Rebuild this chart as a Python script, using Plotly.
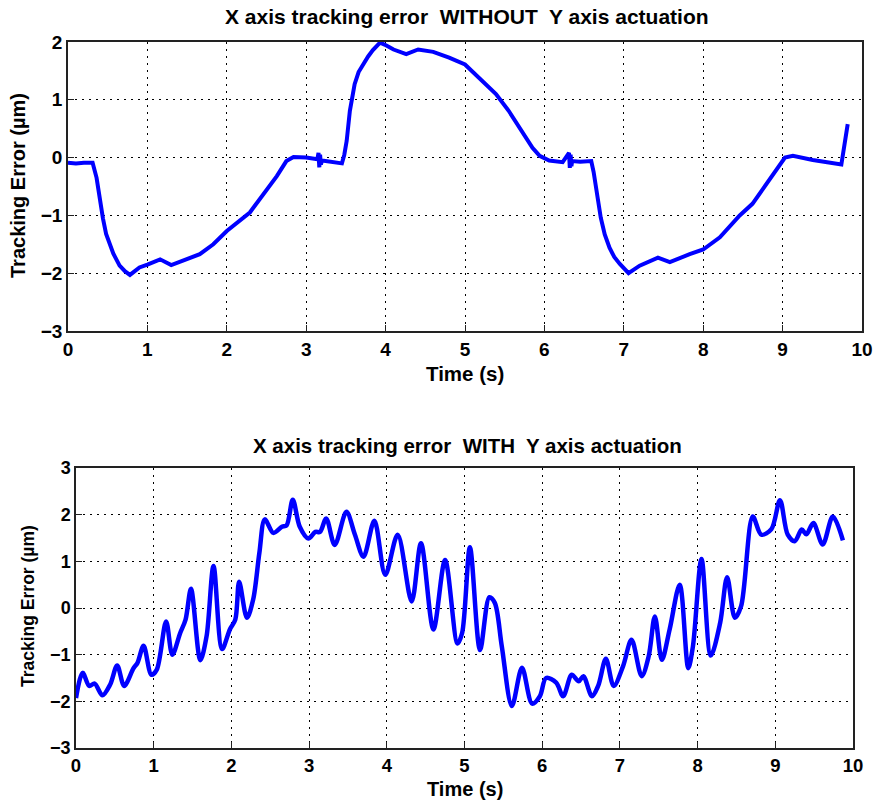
import plotly.graph_objects as go

# Top: X axis tracking error WITHOUT Y axis actuation
t_without = [0.0, 0.1, 0.2, 0.31, 0.36, 0.40, 0.44, 0.48, 0.53, 0.57, 0.65, 0.72, 0.78, 0.90, 1.0, 1.16, 1.30, 1.49, 1.66,
             1.83, 2.0, 2.29, 2.46, 2.63, 2.75, 2.84, 3.0, 3.14, 3.155, 3.165, 3.175, 3.185, 3.2,
             3.34, 3.45, 3.48, 3.51, 3.55, 3.61, 3.66, 3.72, 3.78, 3.84, 3.93, 4.01, 4.1, 4.26, 4.41, 4.6, 4.8,
             5.0, 5.18, 5.39, 5.55, 5.72, 5.85, 5.94, 6.06, 6.23, 6.31, 6.32, 6.33, 6.34, 6.35,
             6.45, 6.59, 6.62, 6.65, 6.71, 6.76, 6.82, 6.88, 6.95, 7.06, 7.2, 7.43, 7.58, 7.83, 8.0, 8.21, 8.46,
             8.62, 8.79, 8.92, 9.03, 9.13, 9.38, 9.74, 9.82]
e_without = [-0.09, -0.1, -0.09, -0.09, -0.35, -0.75, -1.05, -1.32, -1.52, -1.66, -1.87, -1.97, -2.03, -1.9, -1.85, -1.76, -1.86,
             -1.76, -1.67, -1.5, -1.27, -0.95, -0.63, -0.32, -0.06, 0.01, 0.0, -0.03, 0.08, -0.17,
             0.05, -0.12, -0.05, -0.07, -0.1, 0.05, 0.29, 0.81, 1.27, 1.48, 1.62, 1.75, 1.86, 1.99, 1.94, 1.87, 1.79,
             1.87, 1.83, 1.73, 1.61, 1.38, 1.1, 0.81, 0.46, 0.17, 0.03, -0.05, -0.08, 0.08, -0.18,
             0.05, -0.15, -0.06, -0.07, -0.06, -0.25, -0.52, -1.04, -1.33, -1.56, -1.72, -1.84, -2.0, -1.87, -1.73,
             -1.81, -1.67, -1.59, -1.38, -1.0, -0.8, -0.46, -0.2, 0.0, 0.03, -0.04, -0.12, 0.58]

# Bottom: X axis tracking error WITH Y axis actuation
t_with = [0.0, 0.086, 0.17, 0.24, 0.34, 0.44, 0.53, 0.62, 0.74, 0.79, 0.87, 0.97, 1.04, 1.16, 1.24,
          1.34, 1.41, 1.48, 1.6, 1.68, 1.77, 1.88, 1.98, 2.05, 2.1, 2.2, 2.28, 2.36, 2.43, 2.54,
          2.65, 2.71, 2.79, 2.88, 2.99, 3.08, 3.14, 3.22, 3.33, 3.48, 3.59, 3.7, 3.84, 3.98, 4.14,
          4.32, 4.44, 4.6, 4.75, 4.91, 4.97, 5.07, 5.2, 5.32, 5.39, 5.48, 5.61, 5.74, 5.87, 5.97,
          6.05, 6.18, 6.27, 6.38, 6.47, 6.53, 6.64, 6.72, 6.82, 6.92, 7.04, 7.15, 7.28, 7.37,
          7.45, 7.54, 7.64, 7.77, 7.88, 7.94, 8.05, 8.17, 8.29, 8.38, 8.48, 8.56, 8.71, 8.82,
          8.95, 9.06, 9.16, 9.25, 9.34, 9.4, 9.49, 9.61, 9.74, 9.87]
e_with = [-1.93, -1.39, -1.67, -1.62, -1.87, -1.64, -1.23, -1.67, -1.29, -1.18, -0.81, -1.43, -1.32,
          -0.29, -1.0, -0.54, -0.25, 0.41, -1.12, -0.61, 0.9, -0.88, -0.46, -0.25, 0.56, -0.21,
          0.18, 1.18, 1.9, 1.61, 1.74, 1.77, 2.32, 1.74, 1.49, 1.63, 1.63, 1.92, 1.35, 2.06, 1.57,
          1.1, 1.87, 0.71, 1.57, 0.14, 1.39, -0.46, 1.03, -0.76, -0.53, 1.3, -0.9, 0.23, 0.11,
          -0.82, -2.1, -1.28, -2.05, -1.89, -1.5, -1.6, -1.89, -1.43, -1.57, -1.46, -1.89, -1.67,
          -1.09, -1.67, -1.25, -0.68, -1.46, -1.04, -0.18, -1.11, -0.46, 0.5, -1.29, -0.82, 1.05,
          -1.02, -0.32, 0.66, -0.21, 0.04, 1.96, 1.57, 1.69, 2.31, 1.57, 1.43, 1.68, 1.58, 1.82,
          1.36, 1.96, 1.45]

x_ticks = [0, 1, 2, 3, 4, 5, 6, 7, 8, 9, 10]
y_ticks_top = [-3, -2, -1, 0, 1, 2]
y_ticks_bottom = [-3, -2, -1, 0, 1, 2, 3]

title_top = "X axis tracking error  WITHOUT  Y axis actuation"
title_bottom = "X axis tracking error  WITH  Y axis actuation"
x_label = "Time (s)"
y_label = "Tracking Error (µm)"

W, H = 877, 805
FONT = "Liberation Sans, Arial, sans-serif"
BLUE = "#0000FF"

fig = go.Figure()
fig.add_trace(go.Scatter(x=t_without, y=e_without, mode="lines",
                         line=dict(color=BLUE, width=4), xaxis="x", yaxis="y", showlegend=False))
fig.add_trace(go.Scatter(x=t_with, y=e_with, mode="lines",
                         line=dict(color=BLUE, width=4.5, shape="spline", smoothing=0.9),
                         xaxis="x2", yaxis="y2", showlegend=False))

def px_x(p):
    return p / W

def px_y(p):
    return 1 - p / H

def axis_style(size):
    return dict(showline=True, linecolor="#222222", linewidth=1.5, mirror=True,
                ticks="inside", ticklen=6, tickcolor="#222222", automargin=False,
                ticklabeloverflow="allow",
                showgrid=True, gridcolor="black", griddash="2px,5px", gridwidth=1.3,
                zeroline=False, tickfont=dict(family=FONT, size=size, color="black", weight="bold"))

fig.update_layout(
    width=W, height=H, margin=dict(l=0, r=0, t=0, b=0),
    paper_bgcolor="white", plot_bgcolor="white",
    font=dict(family=FONT, color="black"),
    xaxis=dict(domain=[px_x(68), px_x(862)], range=[0, 10], tickvals=x_ticks, anchor="y", **axis_style(19)),
    yaxis=dict(domain=[px_y(331), px_y(42)], range=[-3, 2], tickvals=y_ticks_top, anchor="x", **axis_style(19)),
    xaxis2=dict(domain=[px_x(76), px_x(853)], range=[0, 10], tickvals=x_ticks, anchor="y2", **axis_style(18.5)),
    yaxis2=dict(domain=[px_y(748), px_y(468)], range=[-3, 3], tickvals=y_ticks_bottom, anchor="x2", **axis_style(18)),
)

def bold(size):
    return dict(family=FONT, size=size, color="black", weight="bold")

common = dict(xref="paper", yref="paper", showarrow=False, xanchor="center", yanchor="middle")
annotations = [
    dict(text=title_top, x=px_x(467), y=px_y(17), font=bold(21), **common),
    dict(text=title_bottom, x=px_x(467), y=px_y(445), font=bold(20.5), **common),
    dict(text=x_label, x=px_x(465), y=px_y(373), font=bold(20.5), **common),
    dict(text=x_label, x=px_x(465), y=px_y(789), font=bold(20), **common),
    dict(text=y_label, x=px_x(18), y=px_y(186), textangle=-90, font=bold(20), **common),
    dict(text=y_label, x=px_x(28), y=px_y(606), textangle=-90, font=bold(17.5), **common),
]
fig.update_layout(annotations=annotations)

fig.write_html("out.html",
               config={"displayModeBar": False},
               post_script="document.body.style.margin='0px';document.body.style.overflow='hidden';")
